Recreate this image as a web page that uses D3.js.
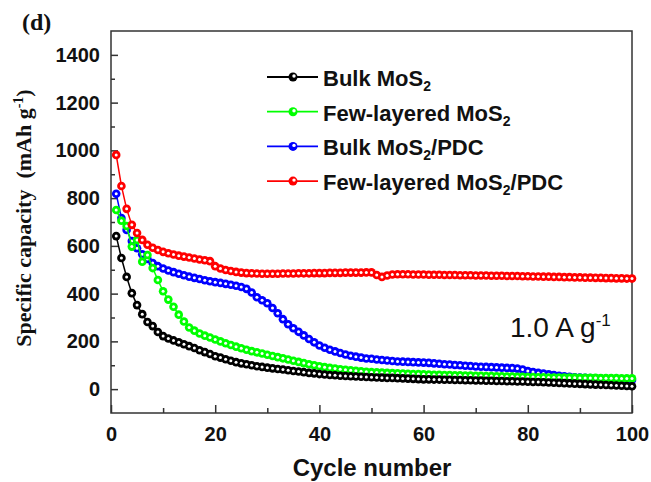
<!DOCTYPE html>
<html>
<head>
<meta charset="utf-8">
<script src="https://cdn.jsdelivr.net/npm/d3@7.9.0/dist/d3.min.js"></script>
<style>
  body { margin: 0; background: #fff; }
  svg { display: block; }
</style>
</head>
<body>
<svg id="chart" width="651" height="482"></svg>
<script>
// Cycle numbers 1..100
const cycles = d3.range(1, 101);

const bulkMoS2 = [
  641, 549, 470, 402, 352, 314, 281, 264, 239, 222,
  212, 204, 196, 188, 180, 172, 163, 155, 147, 138,
  132, 125, 119, 113, 108, 104, 100, 96, 93, 90,
  87, 84, 82, 79, 76, 74, 71, 68, 66, 63,
  61, 59, 58, 56, 55, 54, 53, 52, 51, 50,
  49, 48, 47, 47, 46, 45, 44, 43, 42, 41,
  41, 40, 40, 39, 39, 38, 38, 37, 37, 36,
  36, 35, 35, 34, 34, 33, 33, 32, 32, 31,
  30, 30, 29, 28, 27, 26, 25, 24, 23, 22,
  21, 20, 19, 18, 17, 16, 15, 14, 13, 12
];

const fewLayeredMoS2 = [
  750, 705, 683, 597, 625, 534, 562, 507, 457, 410,
  375, 345, 312, 283, 258, 245, 233, 224, 216, 208,
  200, 192, 185, 178, 171, 165, 159, 154, 149, 144,
  139, 134, 129, 124, 119, 114, 109, 104, 100, 96,
  92, 89, 86, 83, 81, 79, 77, 75, 73, 71,
  70, 69, 68, 67, 66, 65, 64, 63, 63, 62,
  61, 60, 60, 59, 59, 58, 58, 57, 57, 56,
  56, 55, 55, 54, 54, 53, 53, 52, 52, 51,
  51, 50, 50, 49, 49, 49, 48, 48, 48, 47,
  47, 47, 47, 46, 46, 46, 46, 45, 45, 45
];

const bulkMoS2PDC = [
  818, 717, 667, 620, 590, 565, 545, 528, 515, 505,
  497, 490, 483, 477, 471, 466, 461, 456, 452, 448,
  445, 441, 437, 433, 428, 420, 405, 385, 372, 360,
  340, 318, 293, 272, 255, 240, 225, 210, 196, 183,
  173, 165, 158, 151, 145, 140, 136, 132, 128, 127,
  124, 122, 120, 118, 116, 115, 114, 113, 112, 111,
  110, 108, 106, 104, 103, 101, 100, 98, 97, 95,
  94, 93, 92, 91, 90, 89, 88, 86, 82, 76,
  72, 68, 65, 62, 59, 56, 54, 52, 50, 48,
  47, 46, 45, 44, 43, 42, 41, 40, 39, 38
];

const fewLayeredMoS2PDC = [
  981, 851, 755, 688, 654, 625, 605, 592, 583, 575,
  569, 564, 559, 555, 551, 547, 543, 540, 536, 515,
  505, 499, 495, 491, 488, 486, 485, 484, 483, 483,
  483, 483, 484, 484, 484, 485, 485, 485, 486, 486,
  486, 487, 487, 487, 488, 488, 488, 488, 489, 489,
  478, 470, 476, 480, 481, 481, 481, 480, 480, 480,
  479, 479, 479, 478, 478, 478, 477, 477, 477, 476,
  476, 476, 475, 475, 475, 474, 474, 474, 473, 473,
  472, 472, 471, 471, 470, 470, 469, 469, 468, 468,
  467, 467, 466, 466, 465, 465, 464, 464, 463, 463
];

const seriesNames = ['Bulk MoS', 'Few-layered MoS', 'Bulk MoS', 'Few-layered MoS'];
const seriesSuffix = ['', '', '/PDC', '/PDC'];
const seriesColors = ['#000000', '#00ff00', '#0000ff', '#ff0000'];
const seriesValues = [bulkMoS2, fewLayeredMoS2, bulkMoS2PDC, fewLayeredMoS2PDC];

const xTicks = [0, 20, 40, 60, 80, 100];
const yTicks = [0, 200, 400, 600, 800, 1000, 1200, 1400];

const svg = d3.select('#chart');
const plotL = 111, plotR = 632, plotT = 31, plotB = 413;

const x = d3.scaleLinear().domain([0, 100]).range([plotL, plotR]);
const y = d3.scaleLinear().domain([-100, 1500]).range([plotB, plotT]);

const axisColor = '#333';

// minor ticks
const xMinor = d3.range(10, 100, 20);
const yMinor = d3.range(100, 1500, 200);

const gx = svg.append('g').attr('transform', `translate(0,${plotB})`);
gx.call(d3.axisBottom(x).tickValues(xTicks).tickSize(-8).tickPadding(14).tickFormat(d3.format('d')));
gx.append('g').call(d3.axisBottom(x).tickValues(xMinor).tickSize(-5).tickFormat(''));
gx.selectAll('.domain').remove();

const gy = svg.append('g').attr('transform', `translate(${plotL},0)`);
gy.call(d3.axisLeft(y).tickValues(yTicks).tickSize(-7).tickPadding(11).tickFormat(d3.format('d')));
gy.append('g').call(d3.axisLeft(y).tickValues(yMinor).tickSize(-4).tickFormat(''));
gy.selectAll('.domain').remove();

svg.selectAll('.tick line').attr('stroke', axisColor).attr('stroke-width', 1.5);
svg.selectAll('.tick text')
  .attr('fill', '#111')
  .style('font-family', 'Arial, "Liberation Sans", sans-serif')
  .style('font-weight', 'bold')
  .style('font-size', '20px');

// frame
svg.append('rect')
  .attr('x', plotL).attr('y', plotT)
  .attr('width', plotR - plotL).attr('height', plotB - plotT)
  .attr('fill', 'none').attr('stroke', axisColor).attr('stroke-width', 1.5);

// series
const line = d3.line().x((d, i) => x(cycles[i])).y(d => y(d));
const order = [2, 1, 0, 3];
order.forEach(k => {
  const g = svg.append('g');
  g.append('path')
    .datum(seriesValues[k])
    .attr('d', line)
    .attr('fill', 'none')
    .attr('stroke', seriesColors[k])
    .attr('stroke-width', 1.5);
  g.selectAll('circle.m')
    .data(seriesValues[k])
    .enter().append('circle')
    .attr('class', 'm')
    .attr('cx', (d, i) => x(cycles[i]))
    .attr('cy', d => y(d))
    .attr('r', 4.3)
    .attr('fill', seriesColors[k]);
  g.selectAll('circle.h')
    .data(seriesValues[k])
    .enter().append('circle')
    .attr('class', 'h')
    .attr('cx', (d, i) => x(cycles[i]))
    .attr('cy', d => y(d))
    .attr('r', 1.5)
    .attr('fill', '#fff');
});

// legend
const legend = svg.append('g').attr('transform', 'translate(267,77)');
seriesNames.forEach((name, i) => {
  const row = legend.append('g').attr('transform', `translate(0,${i * 34.7})`);
  row.append('line')
    .attr('x1', 0).attr('x2', 51).attr('y1', 0).attr('y2', 0)
    .attr('stroke', seriesColors[i]).attr('stroke-width', 1.8);
  row.append('circle').attr('cx', 26).attr('cy', 0).attr('r', 4.5).attr('fill', seriesColors[i]);
  row.append('circle').attr('cx', 27).attr('cy', -1).attr('r', 1.7).attr('fill', '#fff');
  const t = row.append('text')
    .attr('x', 56).attr('y', 9)
    .attr('fill', '#111')
    .style('font-family', 'Arial, "Liberation Sans", sans-serif')
    .style('font-weight', 'bold')
    .style('font-size', '22px');
  t.append('tspan').text(name);
  t.append('tspan').attr('dy', 5).style('font-size', '14px').text('2');
  if (seriesSuffix[i]) t.append('tspan').attr('dy', -5).text(seriesSuffix[i]);
});

// current density label
const cd = svg.append('text')
  .attr('x', 510).attr('y', 337)
  .attr('fill', '#111')
  .style('font-family', 'Arial, "Liberation Sans", sans-serif')
  .style('font-size', '28px');
cd.append('tspan').text('1.0 A g');
cd.append('tspan').attr('dy', -11).style('font-size', '17px').text('-1');

// axis titles
svg.append('text')
  .attr('x', 372).attr('y', 476)
  .attr('text-anchor', 'middle')
  .attr('fill', '#111')
  .style('font-family', 'Arial, "Liberation Sans", sans-serif')
  .style('font-weight', 'bold')
  .style('font-size', '24px')
  .text('Cycle number');

const yt = svg.append('text')
  .attr('transform', 'translate(31,218) rotate(-90)')
  .attr('text-anchor', 'middle')
  .attr('fill', '#111')
  .style('font-family', '"Times New Roman", "Liberation Serif", serif')
  .style('font-weight', 'bold')
  .style('font-size', '22px');
yt.append('tspan').text('Specific capacity\u00a0 (mAh g');
yt.append('tspan').attr('dy', -8).style('font-size', '14px').text('-1');
yt.append('tspan').attr('dy', 8).text(')');

svg.append('text')
  .attr('x', 22).attr('y', 30)
  .attr('fill', '#111')
  .style('font-family', '"Times New Roman", "Liberation Serif", serif')
  .style('font-weight', 'bold')
  .style('font-size', '24px')
  .text('(d)');
</script>
</body>
</html>
